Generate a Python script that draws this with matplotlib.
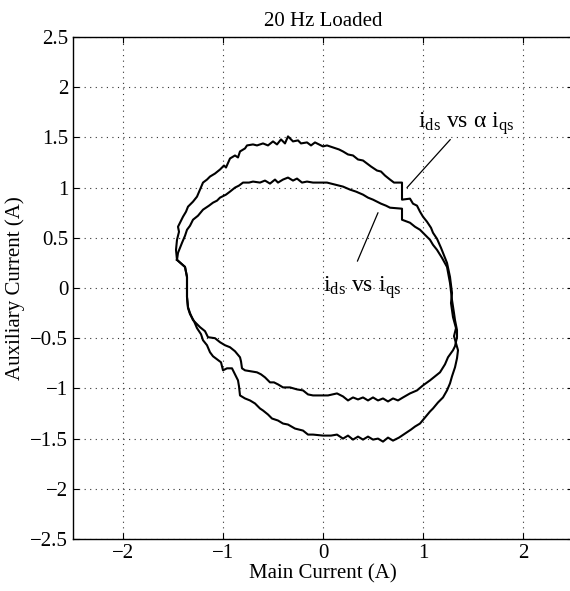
import matplotlib
matplotlib.use('Agg')
import matplotlib.pyplot as plt
import numpy as np

plt.rcParams['font.family'] = ['Liberation Serif', 'DejaVu Serif']
plt.rcParams['mathtext.fontset'] = 'custom'
plt.rcParams['mathtext.rm'] = 'Liberation Serif'
plt.rcParams['mathtext.it'] = 'Liberation Serif'

# i_ds vs alpha*i_qs loop, (main, auxiliary) current pairs
alpha_loop = [
    (-1.46, 0.28), (-1.47, 0.38), (-1.46, 0.48), (-1.44, 0.56), (-1.45, 0.61), (-1.40, 0.71),
    (-1.37, 0.76), (-1.35, 0.81), (-1.30, 0.86), (-1.26, 0.91), (-1.23, 0.98), (-1.20, 1.05),
    (-1.16, 1.08), (-1.13, 1.11), (-1.08, 1.14), (-1.03, 1.18), (-0.99, 1.22), (-0.97, 1.20),
    (-0.93, 1.29), (-0.88, 1.32), (-0.85, 1.30), (-0.83, 1.36), (-0.78, 1.39), (-0.76, 1.42),
    (-0.70, 1.43), (-0.66, 1.42), (-0.60, 1.44), (-0.55, 1.42), (-0.50, 1.46), (-0.46, 1.43),
    (-0.42, 1.48), (-0.38, 1.44), (-0.35, 1.51), (-0.30, 1.46), (-0.25, 1.47), (-0.22, 1.44),
    (-0.16, 1.45), (-0.12, 1.42), (-0.08, 1.45), (0.00, 1.41), (0.04, 1.42), (0.10, 1.40),
    (0.16, 1.38), (0.20, 1.36), (0.25, 1.33), (0.30, 1.32), (0.35, 1.28), (0.40, 1.27),
    (0.44, 1.24), (0.48, 1.21), (0.54, 1.17), (0.58, 1.16), (0.62, 1.12), (0.67, 1.08),
    (0.71, 1.05), (0.79, 1.05), (0.79, 0.88), (0.87, 0.89), (0.90, 0.84), (0.94, 0.82),
    (0.97, 0.76), (1.00, 0.71), (1.04, 0.66), (1.08, 0.60), (1.10, 0.55), (1.14, 0.49),
    (1.18, 0.40), (1.20, 0.35), (1.24, 0.25), (1.27, 0.11), (1.29, -0.05), (1.28, -0.15),
    (1.30, -0.29), (1.33, -0.40), (1.31, -0.48), (1.35, -0.62), (1.34, -0.70), (1.32, -0.79),
    (1.29, -0.88), (1.27, -0.95), (1.24, -1.02), (1.20, -1.09), (1.15, -1.14), (1.10, -1.20),
    (1.07, -1.23), (1.02, -1.29), (0.97, -1.35), (0.92, -1.38), (0.88, -1.41), (0.82, -1.45),
    (0.76, -1.49), (0.70, -1.52), (0.65, -1.49), (0.60, -1.53), (0.55, -1.50), (0.50, -1.51),
    (0.45, -1.48), (0.40, -1.51), (0.35, -1.48), (0.30, -1.51), (0.25, -1.47), (0.20, -1.50),
    (0.14, -1.46), (0.08, -1.47), (0.00, -1.47), (-0.10, -1.46), (-0.15, -1.46), (-0.20, -1.42),
    (-0.28, -1.40), (-0.35, -1.36), (-0.40, -1.35), (-0.45, -1.32), (-0.51, -1.30), (-0.55, -1.26),
    (-0.60, -1.22), (-0.63, -1.20), (-0.68, -1.15), (-0.73, -1.12), (-0.78, -1.10), (-0.83, -1.07),
    (-0.84, -0.98), (-0.85, -0.92), (-0.88, -0.86), (-0.91, -0.80), (-0.96, -0.80), (-1.00, -0.82),
    (-1.02, -0.74), (-1.06, -0.71), (-1.10, -0.68), (-1.13, -0.64), (-1.16, -0.57), (-1.20, -0.52),
    (-1.22, -0.46), (-1.26, -0.40), (-1.29, -0.33), (-1.33, -0.26), (-1.35, -0.20), (-1.36, -0.09),
    (-1.36, 0.05), (-1.36, 0.11), (-1.38, 0.21), (-1.46, 0.28),
]

# i_ds vs i_qs loop
plain_loop = [
    (-1.46, 0.28), (-1.45, 0.35), (-1.41, 0.45), (-1.38, 0.52), (-1.36, 0.58), (-1.33, 0.62),
    (-1.30, 0.68), (-1.25, 0.72), (-1.20, 0.78), (-1.14, 0.82), (-1.10, 0.85), (-1.06, 0.87),
    (-1.03, 0.90), (-0.97, 0.93), (-0.93, 0.96), (-0.88, 1.00), (-0.84, 1.02), (-0.80, 1.05),
    (-0.74, 1.05), (-0.70, 1.06), (-0.63, 1.05), (-0.58, 1.07), (-0.53, 1.04), (-0.48, 1.08),
    (-0.45, 1.05), (-0.40, 1.08), (-0.35, 1.10), (-0.30, 1.07), (-0.26, 1.09), (-0.21, 1.05),
    (-0.16, 1.06), (-0.10, 1.05), (0.04, 1.05), (0.12, 1.03), (0.20, 1.01), (0.27, 0.98),
    (0.33, 0.96), (0.40, 0.93), (0.45, 0.90), (0.50, 0.88), (0.54, 0.86), (0.58, 0.84),
    (0.63, 0.82), (0.67, 0.80), (0.79, 0.79), (0.79, 0.68), (0.87, 0.65), (0.92, 0.61),
    (0.97, 0.58), (1.02, 0.53), (1.07, 0.48), (1.10, 0.43), (1.14, 0.38), (1.19, 0.30),
    (1.24, 0.21), (1.27, 0.05), (1.29, -0.12), (1.31, -0.25), (1.32, -0.32), (1.34, -0.42),
    (1.34, -0.49), (1.32, -0.58), (1.30, -0.62), (1.25, -0.69), (1.22, -0.76), (1.17, -0.84),
    (1.12, -0.88), (1.07, -0.92), (1.00, -0.97), (0.94, -1.02), (0.87, -1.05), (0.80, -1.09),
    (0.75, -1.12), (0.70, -1.10), (0.65, -1.13), (0.60, -1.10), (0.55, -1.12), (0.50, -1.09),
    (0.45, -1.12), (0.40, -1.09), (0.35, -1.11), (0.30, -1.09), (0.25, -1.12), (0.20, -1.08),
    (0.14, -1.05), (0.05, -1.07), (0.00, -1.07), (-0.10, -1.07), (-0.15, -1.06), (-0.20, -1.02),
    (-0.26, -1.01), (-0.33, -0.99), (-0.40, -0.99), (-0.45, -0.96), (-0.49, -0.94), (-0.53, -0.94),
    (-0.58, -0.89), (-0.62, -0.86), (-0.66, -0.84), (-0.72, -0.83), (-0.78, -0.82), (-0.81, -0.80),
    (-0.82, -0.73), (-0.83, -0.69), (-0.88, -0.63), (-0.93, -0.59), (-0.98, -0.57), (-1.03, -0.54),
    (-1.08, -0.50), (-1.15, -0.49), (-1.18, -0.43), (-1.23, -0.39), (-1.27, -0.35), (-1.30, -0.32),
    (-1.33, -0.25), (-1.35, -0.19), (-1.36, -0.09), (-1.36, 0.11), (-1.38, 0.21), (-1.46, 0.28),
]

x_ticks = [-2, -1, 0, 1, 2]
x_labels = ['\u22122', '\u22121', '0', '1', '2']
y_ticks = [-2.5, -2, -1.5, -1, -0.5, 0, 0.5, 1, 1.5, 2, 2.5]
y_labels = ['\u22122.5', '\u22122', '\u22121.5', '\u22121', '\u22120.5', '0',
            '0.5', '1', '1.5', '2', '2.5']

fig = plt.figure(figsize=(5.7, 5.91), dpi=100)
ax = fig.add_axes([73 / 570, 52 / 591, 500 / 570, 502 / 591])

for loop in (alpha_loop, plain_loop):
    pts = np.array(loop)
    ax.plot(pts[:, 0], pts[:, 1], color='black', lw=1.5)

ax.set_xlim(-2.5, 2.5)
ax.set_ylim(-2.5, 2.5)
ax.set_xticks(x_ticks)
ax.set_xticklabels(x_labels)
ax.set_yticks(y_ticks)
ax.set_yticklabels(y_labels)
ax.tick_params(direction='in', length=4, labelsize=15, top=True, right=True, width=0.8)
ax.grid(True, linestyle=(0, (1, 4)), color='#333333', linewidth=0.8)
for s in ax.spines.values():
    s.set_linewidth(1.0)

ax.set_title('20 Hz Loaded', fontsize=15, pad=8)
ax.set_xlabel('Main Current (A)', fontsize=15, labelpad=1)
ax.set_ylabel('Auxiliary Current (A)', fontsize=15, labelpad=4)

# annotations with pointer lines
ax.annotate(r'$\mathrm{i_{ds}\ vs\ \alpha\ i_{qs}}$', xy=(0.84, 1.0), xytext=(0.95, 1.64),
            fontsize=17, va='center', ha='left',
            arrowprops=dict(arrowstyle='-', color='black', lw=0.9,
                            shrinkA=0, shrinkB=0, relpos=(0.41, 0.2)))
ax.annotate(r'$\mathrm{i_{ds}\ vs\ i_{qs}}$', xy=(0.55, 0.75), xytext=(0.0, 0.0),
            fontsize=17, va='center', ha='left',
            arrowprops=dict(arrowstyle='-', color='black', lw=0.9,
                            shrinkA=0, shrinkB=0, relpos=(0.44, 1.5)))

plt.savefig('out.png', dpi=100)
